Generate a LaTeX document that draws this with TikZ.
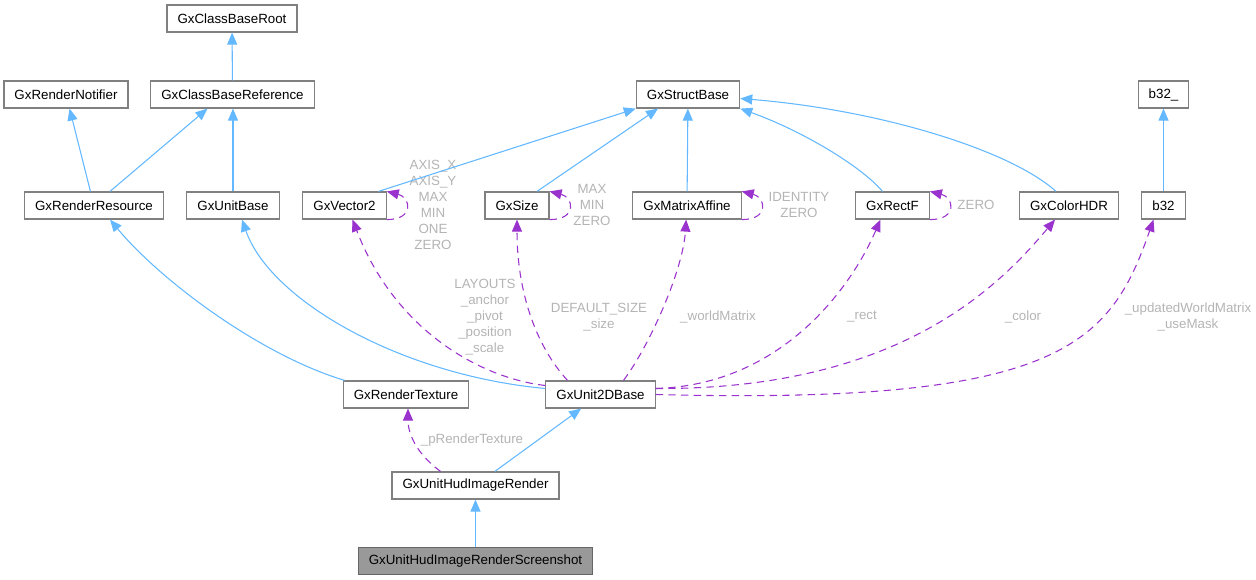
\documentclass[tikz,border=0pt]{standalone}
\usepackage{fontspec}
\setmainfont{Liberation Sans}
\usepackage{tikz}
\usetikzlibrary{arrows.meta, positioning, calc}
\definecolor{EdgeBlue}{RGB}{99,184,255}
\definecolor{EdgePurple}{RGB}{154,50,205}
\definecolor{LabelGray}{RGB}{180,180,180}
\definecolor{BoxEdge}{RGB}{128,128,128}
\definecolor{BoxFocus}{RGB}{153,153,153}
\tikzset{
  clsbox/.style={rectangle, draw=BoxEdge, line width=0.9pt, fill=white,
    font=\fontsize{10}{12}\selectfont, inner xsep=7.9pt, inner ysep=0pt,
    minimum height=20.25pt},
  focusbox/.style={clsbox, fill=BoxFocus, draw=black!60},
  elabel/.style={align=center, text=LabelGray,
    font=\fontsize{10}{12}\selectfont, inner sep=0pt},
  inharrow/.style={-{Triangle[length=9pt, width=7.5pt]}, EdgeBlue, line width=0.8pt},
  usearrow/.style={-{Triangle[length=9pt, width=7.5pt]}, EdgePurple, line width=0.8pt,
    dash pattern=on 5.5pt off 4pt}
}
\begin{document}
\begin{tikzpicture}[x=0.75pt, y=-0.75pt]
  \useasboundingbox (0,0) rectangle (1256,580);

  % Top rows
  \node[clsbox] (cbroot) at (232,18.5)   {GxClassBaseRoot};
  \node[clsbox] (rnot)   at (66,94.5)    {GxRenderNotifier};
  \node[clsbox] (cbref)  at (232.5,94.5) {GxClassBaseReference};
  \node[clsbox] (sbase)  at (688,94.5)   {GxStructBase};
  \node[clsbox] (b32u)   at (1163.5,94.5) {b32\_};

  % Middle row
  \node[clsbox] (rres)  at (94,205.5)    {GxRenderResource};
  \node[clsbox] (ubase) at (233,205.5)   {GxUnitBase};
  \node[clsbox] (vec2)  at (344.5,205.5) {GxVector2};
  \node[clsbox] (gsize) at (517,205.5)   {GxSize};
  \node[clsbox] (mat)   at (687,205.5)   {GxMatrixAffine};
  \node[clsbox] (rectf) at (892.5,205.5) {GxRectF};
  \node[clsbox] (hdr)   at (1069,205.5)  {GxColorHDR};
  \node[clsbox] (b32)   at (1163.5,205.5) {b32};

  % Bottom rows
  \node[clsbox] (rtex) at (406,394.5)   {GxRenderTexture};
  \node[clsbox] (u2d)  at (600.5,394.5) {GxUnit2DBase};
  \node[clsbox] (hud)  at (475.5,485.5) {GxUnitHudImageRender};
  \node[focusbox, below=35.25pt of hud] (shot) {GxUnitHudImageRenderScreenshot};

  % Edge labels
  \node[elabel] (lvec2)  at (433,205)  {AXIS\_X\\AXIS\_Y\\MAX\\MIN\\ONE\\ZERO};
  \node[elabel] (lsize)  at (592,205)  {MAX\\MIN\\ZERO};
  \node[elabel] (lmat)   at (799,205)  {IDENTITY\\ZERO};
  \node[elabel] (lrectf) at (976,205)  {ZERO};
  \node[elabel] (llay)   at (485,317)  {LAYOUTS\\\_anchor\\\_pivot\\\_position\\\_scale};
  \node[elabel] (ldef)   at (599,317)  {DEFAULT\_SIZE\\\_size};
  \node[elabel] (lwm)    at (718,317)  {\_worldMatrix};
  \node[elabel] (lrect)  at (862,317)  {\_rect};
  \node[elabel] (lcol)   at (1023,317) {\_color};
  \node[elabel] (lupd)   at (1188,317) {\_updatedWorldMatrix\\\_useMask};
  \node[elabel] (lptex)  at (472,440)  {\_pRenderTexture};

  % Inheritance
  \draw[inharrow] (cbref) -- (cbroot);
  \draw[inharrow] (rres) -- (rnot);
  \draw[inharrow] ($(rres.north)+(16,0)$) -- ($(cbref.south)+(-25,0)$);
  \draw[inharrow] (ubase.north) -- (ubase.north |- cbref.south);
  \draw[inharrow] ($(vec2.north)+(34,0)$) -- (sbase.south west);
  \draw[inharrow] ($(gsize.north)+(20,0)$) -- ($(sbase.south)+(-30,0)$);
  \draw[inharrow] (mat) -- (sbase);
  \draw[inharrow] ($(rectf.north)+(-10,0)$) .. controls (860,165) and (800,130) .. (sbase.south east);
  \draw[inharrow] ($(hdr.north)+(-13,0)$) .. controls (1010,150) and (880,110) .. ($(sbase.east)+(0,4)$);
  \draw[inharrow] (b32) -- (b32u);
  \draw[inharrow] ($(rtex.north west)+(2,0)$) .. controls (260,355) and (160,280) .. ($(rres.south)+(16,0)$);
  \draw[inharrow] ($(u2d.west)+(0,-6)$) .. controls (400,375) and (270,300) .. ($(ubase.south)+(9,0)$);
  \draw[inharrow] (hud) -- (u2d);
  \draw[inharrow] (shot) -- (hud);

  % Usage
  \draw[usearrow] ($(u2d.west)+(0,-9)$) .. controls (480,378) and (395,330) .. ($(vec2.south)+(8,0)$);
  \draw[usearrow] ($(u2d.north)+(-33,0)$) .. controls (535,345) and (517,290) .. (gsize);
  \draw[usearrow] ($(u2d.north)+(23,0)$) .. controls (650,345) and (683,270) .. (mat);
  \draw[usearrow] ($(u2d.east)+(0,-6)$) .. controls (780,385) and (850,290) .. ($(rectf.south)+(-12,0)$);
  \draw[usearrow] ($(u2d.east)+(0,-6)$) .. controls (900,390) and (1000,285) .. ($(hdr.south)+(-14,0)$);
  \draw[usearrow] (u2d.east) .. controls (1060,405) and (1110,345) .. ($(b32.south)+(-10,0)$);
  \draw[usearrow] ($(hud.north)+(-35,0)$) .. controls (418,455) and (408,435) .. ($(rtex.south)+(2,0)$);

  % Self loops
  \draw[usearrow] (vec2.south east) .. controls +(28,0) and +(24,6) .. (vec2.north east);
  \draw[usearrow] (gsize.south east) .. controls +(28,0) and +(24,6) .. (gsize.north east);
  \draw[usearrow] (mat.south east) .. controls +(28,0) and +(24,6) .. (mat.north east);
  \draw[usearrow] (rectf.south east) .. controls +(28,0) and +(24,6) .. (rectf.north east);
\end{tikzpicture}
\end{document}
